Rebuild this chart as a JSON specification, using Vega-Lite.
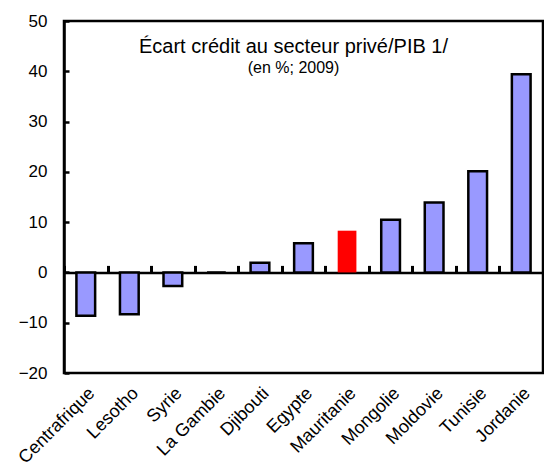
{
  "$schema": "https://vega.github.io/schema/vega-lite/v6.json",
  "width": 479,
  "height": 352,
  "autosize": {"type": "none"},
  "padding": {"left": 64, "top": 21, "right": 1, "bottom": 94},
  "background": "white",
  "config": {"view": {"stroke": "black", "strokeWidth": 2.5}, "font": "Liberation Sans"},
  "title": {
    "text": "Écart crédit au secteur privé/PIB 1/",
    "subtitle": "(en %; 2009)",
    "orient": "top",
    "anchor": "middle",
    "frame": "group",
    "offset": -64,
    "dx": -10,
    "fontSize": 20,
    "fontWeight": "normal",
    "subtitleFontSize": 16,
    "subtitlePadding": 3,
    "color": "black",
    "subtitleColor": "black",
    "font": "Liberation Sans",
    "subtitleFont": "Liberation Sans"
  },
  "data": {
    "values": [
      {"pays": "Centrafrique", "ecart": -8.6},
      {"pays": "Lesotho", "ecart": -8.3},
      {"pays": "Syrie", "ecart": -2.7},
      {"pays": "La Gambie", "ecart": 0},
      {"pays": "Djibouti", "ecart": 1.9},
      {"pays": "Egypte", "ecart": 5.8},
      {"pays": "Mauritanie", "ecart": 8.3},
      {"pays": "Mongolie", "ecart": 10.5},
      {"pays": "Moldovie", "ecart": 13.9},
      {"pays": "Tunisie", "ecart": 20.1},
      {"pays": "Jordanie", "ecart": 39.4}
    ]
  },
  "layer": [
    {
      "mark": {"type": "bar", "stroke": "black"},
      "encoding": {
        "x": {
          "field": "pays",
          "type": "nominal",
          "scale": {
            "domain": ["Centrafrique", "Lesotho", "Syrie", "La Gambie", "Djibouti", "Egypte", "Mauritanie", "Mongolie", "Moldovie", "Tunisie", "Jordanie"],
            "paddingInner": 0.57,
            "paddingOuter": 0.285
          },
          "axis": {
            "orient": "bottom",
            "title": null,
            "domain": false,
            "ticks": false,
            "labelAngle": -45,
            "labelFontSize": 18,
            "labelColor": "black",
            "labelPadding": 11
          }
        },
        "y": {
          "field": "ecart",
          "type": "quantitative",
          "scale": {"domain": [-20, 50], "nice": false},
          "axis": {
            "title": null,
            "values": [-20, -10, 0, 10, 20, 30, 40, 50],
            "grid": false,
            "domainColor": "black",
            "domainWidth": 2.5,
            "tickColor": "black",
            "tickWidth": 2.5,
            "tickSize": -5,
            "labelFontSize": 17,
            "labelColor": "black",
            "labelPadding": 22
          }
        },
        "fill": {
          "condition": {"test": "datum.pays === 'Mauritanie'", "value": "#FF0000"},
          "value": "#9999FF"
        },
        "strokeWidth": {
          "condition": {"test": "datum.pays === 'Mauritanie'", "value": 0},
          "value": 2.5
        }
      }
    },
    {
      "mark": {"type": "tick", "opacity": 0},
      "encoding": {
        "x": {
          "field": "pays",
          "type": "nominal",
          "scale": {
            "domain": ["Centrafrique", "Lesotho", "Syrie", "La Gambie", "Djibouti", "Egypte", "Mauritanie", "Mongolie", "Moldovie", "Tunisie", "Jordanie"],
            "paddingInner": 0,
            "paddingOuter": 0
          },
          "axis": {
            "orient": "top",
            "offset": -251.4,
            "title": null,
            "labels": false,
            "ticks": true,
            "domainColor": "black",
            "domainWidth": 2.5,
            "tickColor": "black",
            "tickWidth": 3,
            "tickSize": 7,
            "tickBand": "extent"
          }
        },
        "y": {"field": "ecart", "type": "quantitative"}
      }
    }
  ],
  "resolve": {"scale": {"x": "independent"}, "axis": {"x": "independent"}}
}
